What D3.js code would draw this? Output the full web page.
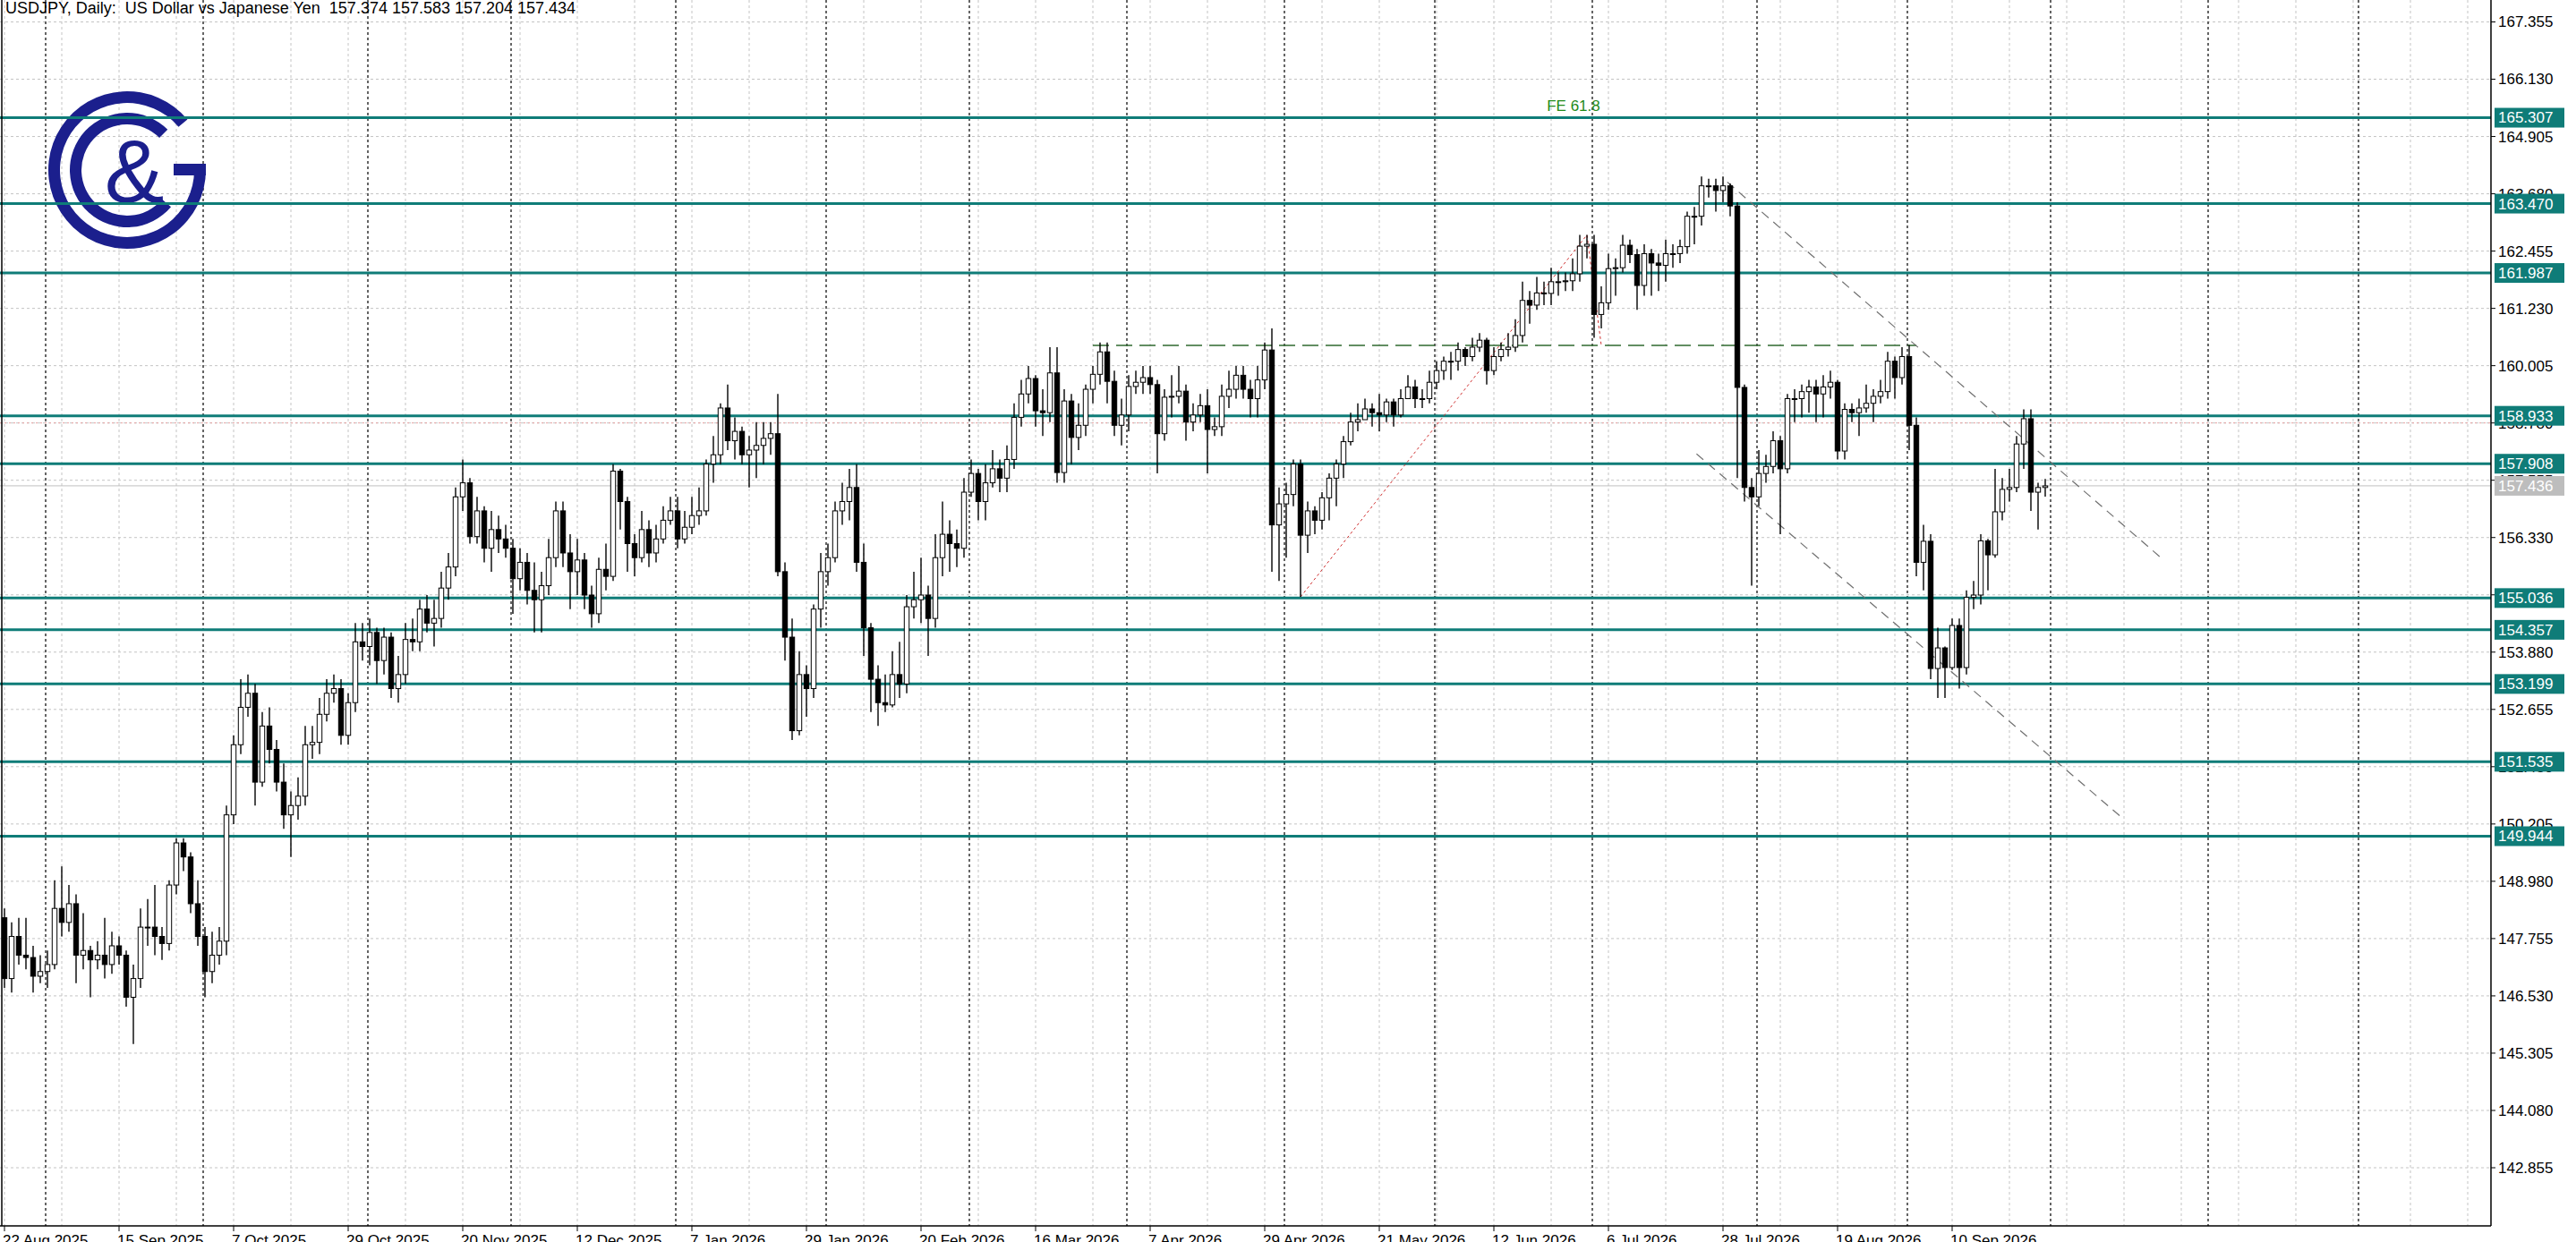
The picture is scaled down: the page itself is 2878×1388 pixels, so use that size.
<!DOCTYPE html>
<html><head><meta charset="utf-8">
<script src="https://cdn.jsdelivr.net/npm/d3@7/dist/d3.min.js"></script>
<style>body{margin:0;background:#fff;overflow:hidden}svg{display:block}</style>
</head><body>
<script>
const title = "USDJPY, Daily:  US Dollar vs Japanese Yen  157.374 157.583 157.204 157.434";
const firstOpen = 148.2;
const closes = [146.9,147.8,147.4,147.35,146.95,147.05,147.2,148.4,148.1,148.5,
147.4,147.5,147.3,147.4,147.2,147.6,147.4,146.5,146.9,148.0,
148.0,147.8,147.65,148.9,149.8,149.5,148.5,147.8,147.05,147.4,
147.7,150.4,151.9,152.7,153.0,151.1,152.3,151.8,151.1,150.4,
150.6,150.8,151.9,151.95,152.55,153.0,153.1,152.1,152.8,154.1,
154.0,154.3,153.7,154.2,153.1,153.4,154.15,154.1,154.8,154.5,
154.6,155.25,155.7,157.2,157.5,156.35,156.9,156.1,156.5,156.3,
156.1,155.45,155.8,155.2,155.0,155.3,155.9,156.9,156.0,155.6,
155.85,155.1,154.7,155.65,155.5,157.75,157.1,156.2,155.9,156.5,
156.0,156.3,156.7,156.9,156.3,156.55,156.8,156.9,157.9,158.1,
159.1,158.4,158.6,158.1,158.2,158.3,158.45,158.55,155.6,154.2,
152.2,153.4,153.1,154.8,155.6,155.9,156.9,157.1,157.4,155.8,
154.4,153.3,152.8,152.75,153.4,153.2,154.85,155.0,155.1,154.6,
155.9,156.4,156.2,156.1,157.3,157.7,157.1,157.5,157.8,157.6,
158.0,158.9,159.4,159.73,159.04,159.0,159.85,157.72,159.25,158.47,
158.73,159.5,159.82,160.3,159.67,158.73,158.95,159.56,159.65,159.75,
159.6,158.55,159.33,159.35,159.46,158.8,158.95,159.15,158.64,158.7,
159.35,159.5,159.8,159.5,159.3,159.7,160.34,156.6,157.05,157.25,
157.9,156.38,156.9,156.7,157.18,157.6,157.9,158.38,158.8,158.85,
159.08,159.0,158.95,159.23,158.95,159.3,159.55,159.3,159.3,159.65,
159.9,160.1,160.1,160.35,160.2,160.4,160.55,159.9,160.2,160.35,
160.4,160.65,161.4,161.3,161.56,161.55,161.8,161.8,161.82,161.97,
162.56,162.6,161.1,161.35,162.08,162.1,162.58,162.38,161.72,162.4,
162.2,162.15,162.4,162.4,162.55,163.2,163.2,163.85,163.85,163.75,
163.85,163.42,159.54,157.4,157.2,157.7,157.85,158.4,157.8,159.3,
159.3,159.45,159.55,159.4,159.55,159.65,158.18,159.07,159.0,159.1,
159.2,159.35,159.45,160.1,159.75,160.2,158.73,155.8,156.25,153.53,
153.97,153.55,154.45,153.55,155.05,155.1,156.26,155.96,156.88,157.36,
157.4,158.33,158.87,157.3,157.4,157.434];
const highs = [148.4,148.1,148.2,148.2,147.6,147.4,147.5,149.0,149.3,148.9,
148.7,148.3,147.6,147.7,148.2,147.9,147.8,147.5,147.2,148.4,
148.6,148.9,148.0,149.0,149.9,149.9,149.6,149.0,148.0,147.9,
148.0,150.6,152.1,153.3,153.4,153.2,152.6,152.7,152.0,151.5,
150.9,151.2,152.3,152.3,152.9,153.3,153.4,153.3,153.0,154.5,
154.5,154.6,154.4,154.4,154.3,153.8,154.5,154.6,155.0,155.1,
155.0,155.6,156.0,157.4,158.0,157.6,157.2,157.0,156.9,156.8,
156.6,156.3,156.1,156.0,155.8,155.6,156.3,157.1,157.1,156.4,
156.3,156.0,155.3,155.9,156.2,157.9,157.8,157.2,156.4,156.9,
156.7,156.6,157.0,157.2,157.2,156.9,157.2,157.4,158.0,158.5,
159.2,159.6,158.9,158.7,158.5,158.8,158.8,158.8,159.4,155.8,
154.6,153.9,153.6,154.9,156.0,156.2,157.1,157.5,157.8,157.9,
156.2,154.5,153.6,153.4,153.9,154.1,155.1,155.6,155.9,155.3,
156.4,157.1,156.7,156.5,157.6,158.0,157.8,157.9,158.2,158.0,
158.3,159.2,159.7,160.0,159.8,159.5,160.4,160.4,159.5,159.4,
159.2,159.6,160.0,160.5,160.5,159.9,159.3,159.8,159.9,160.0,
160.0,159.7,159.5,159.8,160.0,159.6,159.2,159.4,159.5,158.9,
159.6,159.9,160.0,160.0,159.7,160.0,160.5,160.8,157.4,157.5,
158.0,158.0,157.1,157.0,157.3,157.7,158.0,158.5,159.0,159.2,
159.3,159.2,159.4,159.3,159.3,159.5,159.8,159.7,159.5,159.9,
160.1,160.2,160.3,160.5,160.4,160.6,160.7,160.6,160.4,160.5,
160.7,161.0,161.8,161.6,161.9,161.8,162.1,162.0,162.0,162.3,
162.8,162.8,162.8,161.7,162.4,162.3,162.8,162.7,162.5,162.6,
162.5,162.4,162.7,162.6,162.7,163.3,163.4,164.05,164.0,164.0,
164.05,163.9,163.5,159.6,157.6,158.2,158.1,158.6,158.5,159.4,
159.5,159.6,159.7,159.7,159.8,159.9,159.7,159.2,159.2,159.3,
159.6,159.5,159.7,160.3,160.2,160.4,160.45,158.9,156.6,156.4,
154.4,154.0,154.6,154.6,155.2,155.4,156.4,156.3,157.8,157.6,
157.8,158.5,159.07,159.07,157.5,157.583];
const lows = [146.7,146.6,147.2,147.1,146.6,146.8,146.7,147.1,147.8,147.9,
146.8,147.1,146.5,147.1,146.9,147.0,147.2,146.3,145.5,146.7,
147.6,147.4,147.3,147.5,148.7,149.2,148.3,147.6,146.5,146.8,
147.2,147.4,150.2,151.7,152.5,150.6,151.0,151.5,150.9,150.1,
149.5,150.3,150.6,151.6,151.7,152.4,152.8,151.9,151.9,152.6,
153.7,153.6,153.2,153.4,152.9,152.8,153.2,153.9,153.9,154.3,
154.0,154.4,155.0,155.5,156.9,156.2,156.2,155.8,155.6,156.0,
155.9,154.7,155.2,154.9,154.3,154.3,155.1,155.7,155.7,154.8,
155.1,154.8,154.4,154.5,155.2,155.4,156.5,155.6,155.5,155.8,
155.7,155.8,156.2,156.6,156.1,156.2,156.4,156.6,156.8,157.5,
157.9,158.2,158.0,157.9,157.4,157.6,157.9,158.1,155.5,153.7,
152.0,152.1,152.5,152.9,154.4,155.3,155.8,156.6,156.7,155.6,
153.8,152.6,152.3,152.6,152.7,152.9,153.0,154.6,154.5,153.8,
154.4,155.5,155.6,155.7,155.9,157.2,156.7,156.7,157.4,157.3,
157.3,157.8,158.7,159.2,158.7,158.5,158.8,157.5,157.5,157.9,
158.2,158.5,159.2,159.6,159.2,158.5,158.3,158.6,159.4,159.4,
159.4,157.7,158.4,158.9,159.2,158.4,158.6,158.8,157.7,158.5,
158.5,159.1,159.3,159.3,158.9,158.9,159.5,155.6,155.4,155.9,
157.0,155.06,156.0,156.4,156.5,156.7,157.0,157.6,158.3,158.6,
158.9,158.7,158.6,158.8,158.7,158.9,159.3,159.1,159.1,159.2,
159.5,159.7,159.7,159.9,160.0,160.1,160.3,159.6,159.8,160.1,
160.2,160.3,160.5,160.9,161.2,161.3,161.3,161.5,161.6,161.6,
161.8,162.3,160.6,160.8,161.2,161.5,162.0,162.2,161.2,161.5,
161.5,161.6,161.8,162.1,162.2,162.4,162.6,163.0,163.6,163.3,
163.5,163.2,157.6,157.1,155.3,157.0,157.5,157.7,156.4,157.7,
158.8,158.9,159.0,158.8,158.9,159.3,158.0,158.0,158.8,158.5,
159.0,158.8,159.2,159.3,159.3,159.6,158.2,155.5,155.2,153.3,
152.9,152.9,153.5,153.1,153.4,154.8,154.9,155.2,155.9,156.7,
157.1,157.3,157.8,156.9,156.5,157.204];
const levels = [165.307,163.470,161.987,158.933,157.908,155.036,154.357,153.199,151.535,149.944];
const currentPrice = 157.436;
const priceTicks = [167.355,166.130,164.905,163.680,162.455,161.230,160.005,158.780,157.555,156.330,155.105,153.880,152.655,151.430,150.205,148.980,147.755,146.530,145.305,144.080,142.855];
const dateTickLabels = ["22 Aug 2025","15 Sep 2025","7 Oct 2025","29 Oct 2025","20 Nov 2025","12 Dec 2025","7 Jan 2026","29 Jan 2026","20 Feb 2026","16 Mar 2026","7 Apr 2026","29 Apr 2026","21 May 2026","12 Jun 2026","6 Jul 2026","28 Jul 2026","19 Aug 2026","10 Sep 2026"];
const monthStartBars = [6,28,51,71,94,115,135,157,179,200,222,245,266,286,308,329];
const resistanceLine = [[240.6,163.93],[301,155.92]];
const supportLine = [[236.3,158.12],[295.8,150.33]];
const fiboPoints = [[181,155.06],[221,162.8],[223,160.44]];
const feLevel = {from:152, to:267, price:160.44, label:"FE 61.8"};
const pinkLevel = 158.78;

const W=2878,H=1388, AX=2783, BOT=1370;
const x = d3.scaleLinear().domain([0,285]).range([5,2285]);
const y = d3.scaleLinear().domain([167.355,142.855]).range([24.5,1305]);
const svg = d3.select("body").append("svg").attr("width",W).attr("height",H);
const font = "'Liberation Sans', Arial, sans-serif";
svg.append("rect").attr("width",W).attr("height",H).attr("fill","#fff");
svg.append("defs").append("clipPath").attr("id","c").append("rect").attr("x",0).attr("y",0).attr("width",AX).attr("height",BOT);
const g = svg.append("g").attr("clip-path","url(#c)");

// grid
const nb = Math.ceil(x.invert(AX));
for(let i=0;i<=nb;i+=8){
  g.append("line").attr("x1",x(i)).attr("x2",x(i)).attr("y1",0).attr("y2",BOT).attr("stroke","#c4c4c4").attr("stroke-dasharray","3,3");
}
priceTicks.forEach(p=>g.append("line").attr("x1",0).attr("x2",AX).attr("y1",y(p)).attr("y2",y(p)).attr("stroke","#c4c4c4").attr("stroke-dasharray","3,3"));
monthStartBars.forEach(i=>g.append("line").attr("x1",x(i)-2).attr("x2",x(i)-2).attr("y1",0).attr("y2",BOT).attr("stroke","#000").attr("stroke-width",1.2).attr("stroke-dasharray","3,3"));
g.append("line").attr("x1",0).attr("x2",AX).attr("y1",y(currentPrice)).attr("y2",y(currentPrice)).attr("stroke","#c0c0c0");
g.append("line").attr("x1",0).attr("x2",AX).attr("y1",y(pinkLevel)).attr("y2",y(pinkLevel)).attr("stroke","#e8a0a0").attr("stroke-dasharray","2,3");

// logo
const lc="#1b1f8d", cx=142, cy=190;
const arc=d3.arc();
g.append("path").attr("transform",`translate(${cx},${cy})`).attr("fill",lc)
 .attr("d",arc({innerRadius:75,outerRadius:88,startAngle:Math.PI/2,endAngle:(50+360)*Math.PI/180}));
g.append("rect").attr("x",194).attr("y",cy-7).attr("width",36).attr("height",13).attr("fill",lc);
g.append("path").attr("transform",`translate(${cx},${cy})`).attr("fill",lc)
 .attr("d",arc({innerRadius:51,outerRadius:64,startAngle:130*Math.PI/180,endAngle:(45+360)*Math.PI/180}));
g.append("text").attr("x",150).attr("y",226).attr("text-anchor","middle").attr("font-family",font).attr("font-size",100).attr("fill",lc).text("&");

// levels
levels.forEach(p=>g.append("line").attr("x1",0).attr("x2",AX).attr("y1",y(p)).attr("y2",y(p)).attr("stroke","#0f7c78").attr("stroke-width",3));

// annotations
const ln=d3.line().x(d=>x(d[0])).y(d=>y(d[1]));
g.append("path").attr("d",ln(fiboPoints)).attr("fill","none").attr("stroke","#d03030").attr("stroke-width",1).attr("stroke-dasharray","3,3");
g.append("line").attr("x1",x(feLevel.from)).attr("x2",x(feLevel.to)).attr("y1",y(feLevel.price)).attr("y2",y(feLevel.price)).attr("stroke","#2f6a2f").attr("stroke-width",1.5).attr("stroke-dasharray","18,8");
g.append("text").attr("x",1758).attr("y",124).attr("text-anchor","middle").attr("font-family",font).attr("font-size",17).attr("fill","#238a17").text(feLevel.label);
[resistanceLine,supportLine].forEach(l=>g.append("path").attr("d",ln(l)).attr("stroke","#707070").attr("stroke-width",1.2).attr("stroke-dasharray","10,7").attr("fill","none"));

// candles
closes.forEach((c,i)=>{
  const o = i===0?firstOpen:closes[i-1];
  const h=Math.max(highs[i],o,c), l=Math.min(lows[i],o,c);
  const xi=x(i);
  g.append("line").attr("x1",xi).attr("x2",xi).attr("y1",y(h)).attr("y2",y(l)).attr("stroke","#000").attr("stroke-width",1.4);
  const top=y(Math.max(o,c)), bh=Math.max(1,y(Math.min(o,c))-top);
  g.append("rect").attr("x",xi-2.7).attr("y",top).attr("width",5.4).attr("height",bh)
   .attr("fill",c>=o?"#fff":"#000").attr("stroke","#000").attr("stroke-width",1);
});

// frame
svg.append("line").attr("x1",2).attr("x2",2).attr("y1",0).attr("y2",BOT).attr("stroke","#000").attr("stroke-width",1.5);
svg.append("line").attr("x1",AX).attr("x2",AX).attr("y1",0).attr("y2",BOT).attr("stroke","#000").attr("stroke-width",1.5);
svg.append("line").attr("x1",0).attr("x2",AX).attr("y1",BOT).attr("y2",BOT).attr("stroke","#000").attr("stroke-width",1.5);

// price axis
priceTicks.forEach(p=>{
  svg.append("line").attr("x1",AX).attr("x2",AX+5).attr("y1",y(p)).attr("y2",y(p)).attr("stroke","#000");
  svg.append("text").attr("x",2791).attr("y",y(p)).attr("dy","0.35em").attr("font-family",font).attr("font-size",17).attr("fill","#000").text(p.toFixed(3));
});
levels.forEach(p=>{
  svg.append("rect").attr("x",2787).attr("y",y(p)-11).attr("width",78).attr("height",22).attr("fill","#0f7c78");
  svg.append("text").attr("x",2791).attr("y",y(p)).attr("dy","0.35em").attr("font-family",font).attr("font-size",17).attr("fill","#fff").text(p.toFixed(3));
});
svg.append("rect").attr("x",2787).attr("y",y(currentPrice)-11).attr("width",78).attr("height",22).attr("fill","#bdbdbd");
svg.append("text").attr("x",2791).attr("y",y(currentPrice)).attr("dy","0.35em").attr("font-family",font).attr("font-size",17).attr("fill","#fff").text(currentPrice.toFixed(3));

// date axis
dateTickLabels.forEach((t,k)=>{
  const xi=x(k*16);
  svg.append("line").attr("x1",xi).attr("x2",xi).attr("y1",BOT).attr("y2",BOT+6).attr("stroke","#000");
  svg.append("text").attr("x",xi-2).attr("y",1392).attr("font-family",font).attr("font-size",17).attr("fill","#000").text(t);
});

svg.append("text").attr("x",6).attr("y",15).attr("font-family",font).attr("font-size",18).attr("fill","#000")
  .style("white-space","pre").text(title);
</script>
</body></html>
